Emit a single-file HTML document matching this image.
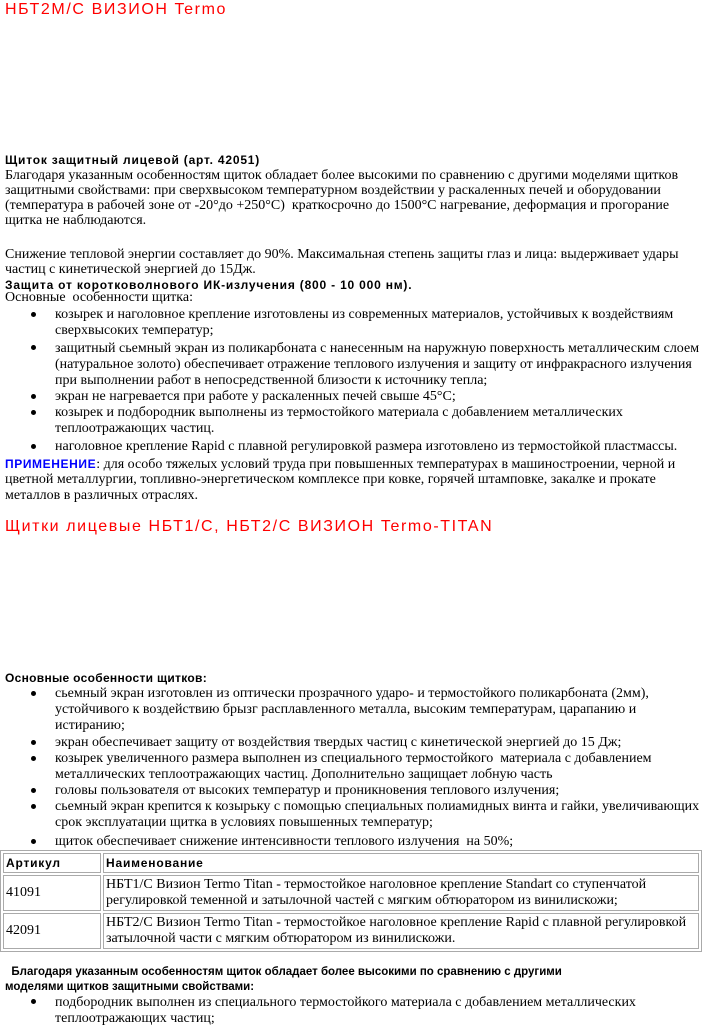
<!DOCTYPE html>
<html><head><meta charset="utf-8"><style>
body{margin:0;width:702px;height:1028px;background:#fff;position:relative;overflow:hidden}
.l{position:absolute;white-space:nowrap;font-family:"Liberation Serif",serif;font-size:14px;line-height:16px;letter-spacing:0;color:#000}
.b{position:absolute;white-space:nowrap;font-family:"Liberation Sans",sans-serif;font-size:12px;font-weight:bold;line-height:14px;letter-spacing:0.8px;color:#000}
.t{position:absolute;white-space:nowrap;font-family:"Liberation Sans",sans-serif;font-size:16px;line-height:18px;letter-spacing:1.6px;color:#f00}
.d{position:absolute;width:5px;height:5px;border-radius:50%;background:#000}
table{position:absolute;left:0;top:850px;width:702px;border-collapse:separate;border-spacing:2px;border:1px solid #aaa}
td{border:1px solid #aaa;font-family:"Liberation Serif",serif;font-size:14px;letter-spacing:0;line-height:16px;padding:1px 2px;vertical-align:middle}
td.h{font-family:"Liberation Sans",sans-serif;font-size:12px;font-weight:bold;letter-spacing:0.8px}
</style></head><body>
<div class="t" style="left:5px;top:1px">НБТ2М/С ВИЗИОН Termo</div>
<div class="b" style="left:5px;top:153px">Щиток защитный лицевой (арт. 42051)</div>
<div class="l" style="left:5px;top:168px">Благодаря указанным особенностям щиток обладает более высокими по сравнению с другими моделями щитков</div>
<div class="l" style="left:5px;top:183px">защитными свойствами: при сверхвысоком температурном воздействии у раскаленных печей и оборудовании</div>
<div class="l" style="left:5px;top:198px">(температура в рабочей зоне от -20°до +250°С)&nbsp; краткосрочно до 1500°С нагревание, деформация и прогорание</div>
<div class="l" style="left:5px;top:213px">щитка не наблюдаются.</div>
<div class="l" style="left:5px;top:247px">Снижение тепловой энергии составляет до 90%. Максимальная степень защиты глаз и лица: выдерживает удары</div>
<div class="l" style="left:5px;top:262px">частиц с кинетической энергией до 15Дж.</div>
<div class="b" style="left:5px;top:278px">Защита от коротковолнового ИК-излучения (800 - 10 000 нм).</div>
<div class="l" style="left:5px;top:290px">Основные&nbsp; особенности щитка:</div>
<div class="d" style="left:31px;top:312px"></div>
<div class="l" style="left:55px;top:307px">козырек и наголовное крепление изготовлены из современных материалов, устойчивых к воздействиям</div>
<div class="l" style="left:55px;top:323px">сверхвысоких температур;</div>
<div class="d" style="left:31px;top:345px"></div>
<div class="l" style="left:55px;top:341px">защитный сьемный экран из поликарбоната с нанесенным на наружную поверхность металлическим слоем</div>
<div class="l" style="left:55px;top:357px">(натуральное золото) обеспечивает отражение теплового излучения и защиту от инфракрасного излучения</div>
<div class="l" style="left:55px;top:373px">при выполнении работ в непосредственной близости к источнику тепла;</div>
<div class="d" style="left:31px;top:394px"></div>
<div class="l" style="left:55px;top:389px">экран не нагревается при работе у раскаленных печей свыше 45°С;</div>
<div class="d" style="left:31px;top:410px"></div>
<div class="l" style="left:55px;top:405px">козырек и подбородник выполнены из термостойкого материала с добавлением металлических</div>
<div class="l" style="left:55px;top:421px">теплоотражающих частиц.</div>
<div class="d" style="left:31px;top:444px"></div>
<div class="l" style="left:55px;top:439px">наголовное крепление Rapid с плавной регулировкой размера изготовлено из термостойкой пластмассы.</div>
<div class="l" style="left:5px;top:456px"><span style="font-family:'Liberation Sans',sans-serif;font-size:12px;font-weight:bold;color:#00f;letter-spacing:0.6px">ПРИМЕНЕНИЕ</span>: для особо тяжелых условий труда при повышенных температурах в машиностроении, черной и</div>
<div class="l" style="left:5px;top:472px">цветной металлургии, топливно-энергетическом комплексе при ковке, горячей штамповке, закалке и прокате</div>
<div class="l" style="left:5px;top:488px">металлов в различных отраслях.</div>
<div class="t" style="left:5px;top:518px">Щитки лицевые НБТ1/С, НБТ2/С ВИЗИОН Termo-TITAN</div>
<div class="b" style="left:5px;top:671px;letter-spacing:0.3px">Основные особенности щитков:</div>
<div class="d" style="left:31px;top:691px"></div>
<div class="l" style="left:55px;top:686px">сьемный экран изготовлен из оптически прозрачного ударо- и термостойкого поликарбоната (2мм),</div>
<div class="l" style="left:55px;top:702px">устойчивого к воздействию брызг расплавленного металла, высоким температурам, царапанию и</div>
<div class="l" style="left:55px;top:718px">истиранию;</div>
<div class="d" style="left:31px;top:740px"></div>
<div class="l" style="left:55px;top:735px">экран обеспечивает защиту от воздействия твердых частиц с кинетической энергией до 15 Дж;</div>
<div class="d" style="left:31px;top:756px"></div>
<div class="l" style="left:55px;top:751px">козырек увеличенного размера выполнен из специального термостойкого&nbsp; материала с добавлением</div>
<div class="l" style="left:55px;top:767px">металлических теплоотражающих частиц. Дополнительно защищает лобную часть</div>
<div class="d" style="left:31px;top:788px"></div>
<div class="l" style="left:55px;top:783px">головы пользователя от высоких температур и проникновения теплового излучения;</div>
<div class="d" style="left:31px;top:804px"></div>
<div class="l" style="left:55px;top:799px">сьемный экран крепится к козырьку с помощью специальных полиамидных винта и гайки, увеличивающих</div>
<div class="l" style="left:55px;top:815px">срок эксплуатации щитка в условиях повышенных температур;</div>
<div class="d" style="left:31px;top:839px"></div>
<div class="l" style="left:55px;top:834px">щиток обеспечивает снижение интенсивности теплового излучения&nbsp; на 50%;</div>
<table>
<tr style="height:18px"><td class="h" style="width:92px">Артикул</td><td class="h">Наименование</td></tr>
<tr style="height:36px"><td>41091</td><td>НБТ1/С Визион Termo Titan - термостойкое наголовное крепление Standart со ступенчатой<br>регулировкой теменной и затылочной частей с мягким обтюратором из винилискожи;</td></tr>
<tr style="height:36px"><td>42091</td><td>НБТ2/С Визион Termo Titan - термостойкое наголовное крепление Rapid с плавной регулировкой<br>затылочной части с мягким обтюратором из винилискожи.</td></tr>
</table>
<div class="b" style="left:5px;top:965px;font-size:11.5px;letter-spacing:0">&nbsp; Благодаря указанным особенностям щиток обладает более высокими по сравнению с другими</div>
<div class="b" style="left:5px;top:980px;font-size:11.5px;letter-spacing:0">моделями щитков защитными свойствами:</div>
<div class="d" style="left:31px;top:999px"></div>
<div class="l" style="left:55px;top:995px">подбородник выполнен из специального термостойкого материала с добавлением металлических</div>
<div class="l" style="left:55px;top:1011px">теплоотражающих частиц;</div>
</body></html>
